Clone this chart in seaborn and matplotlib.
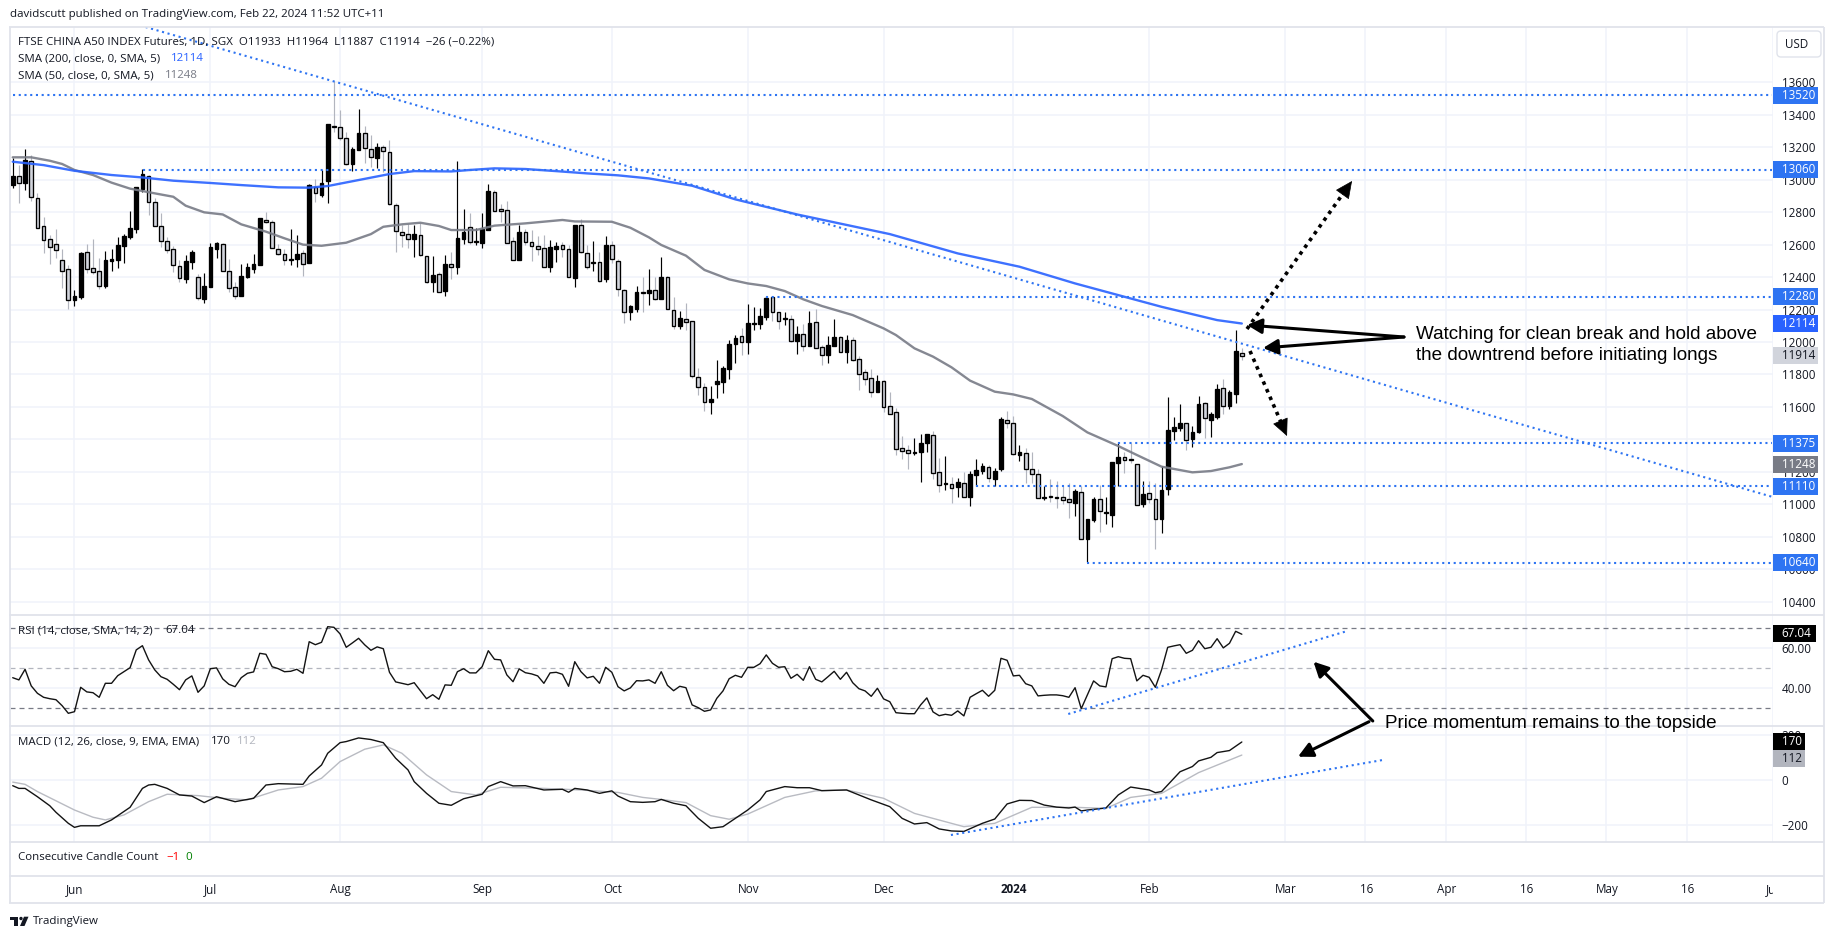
import matplotlib
matplotlib.use("Agg")
import matplotlib.pyplot as plt
from matplotlib.patches import Rectangle, Circle, Polygon, FancyBboxPatch
import seaborn as sns

# ---------- daily candles (price units) ----------
directions = ("BGBGGGGGGG" "BBGGGBBBBB" "BBGGGGGGBB" "GBBBGGGBBB" "BGGGGBBGBG"
              "BBGGGBBGGB" "GGGGGBGGBG" "BGBBGBBBGG" "GGBGGGGBBG" "GBGGBGBGGG"
              "BBGBGBGGBG" "GGGBBBBBGB" "BBBGGBGBGB" "GGBBGBGGGG" "BGGGGGBBBG"
              "GBGBGBBBGB" "BGGBGGGBGG" "GGBGBBGBBB" "GGGBGGBBBB" "GBBGBBGBBG")
highs = [13131,13090,13187,13152,12916,12772,12659,12694,12571,12474,
         12320,12552,12604,12634,12515,12561,12571,12645,12663,12807,
         12953,13066,13029,12885,12797,12649,12591,12505,12536,12567,
         12419,12423,12608,12618,12608,12509,12372,12480,12489,12542,
         12762,12801,12752,12602,12575,12694,12659,12567,12971,13002,
         13060,13343,13608,13429,13296,13203,13436,13331,13275,13228,
         13214,13244,12854,12721,12725,12721,12735,12532,12530,12433,
         12536,12556,13115,12819,12797,12700,12793,12973,12936,12848,
         12869,12645,12721,12694,12690,12653,12659,12628,12616,12616,
         12595,12721,12756,12598,12622,12552,12653,12624,12511,12326,
         12228,12345,12402,12450,12402,12522,12407,12277,12191,12238,
         12131,11838,11745,11729,11889,11852,12012,12041,12084,12234,
         12214,12207,12283,12279,12187,12185,12166,12098,12111,12193,
         12201,11981,12037,12140,12037,12041,12033,11914,11831,11834,
         11794,11766,11692,11591,11421,11365,11406,11433,11433,11452,
         11285,11297,11170,11160,11201,11207,11279,11256,11242,11222,
         11536,11575,11544,11365,11345,11324,11215,11113,11154,11143,
         11115,11129,11094,11115,10907,11043,11119,11047,11263,11386,
         11324,11376,11248,11146,11146,11129,11238,11659,11536,11616,
         11499,11482,11667,11630,11567,11741,11772,11704,12074,11964]
body_tops = [13023,13023,13121,13113,12885,12715,12632,12602,12503,12448,
             12283,12548,12552,12454,12435,12505,12511,12598,12651,12702,
             12953,13035,13021,12860,12713,12620,12571,12466,12497,12552,
             12398,12343,12583,12608,12602,12435,12337,12404,12460,12478,
             12762,12754,12737,12575,12540,12509,12540,12546,12965,12953,
             12977,13341,13329,13325,13255,13187,13286,13286,13191,13199,
             13199,13168,12842,12680,12663,12665,12657,12528,12413,12417,
             12480,12478,12639,12676,12706,12622,12696,12930,12922,12817,
             12811,12620,12676,12676,12614,12589,12577,12585,12589,12595,
             12571,12721,12719,12546,12493,12491,12595,12595,12497,12322,
             12220,12306,12306,12318,12318,12398,12402,12199,12146,12140,
             12127,11782,11725,11647,11758,11838,11986,12022,12035,12115,
             12117,12158,12269,12275,12183,12146,12144,12047,12047,12115,
             12121,11967,11979,12029,12029,12010,12010,11893,11813,11776,
             11760,11758,11604,11567,11345,11332,11322,11375,11431,11425,
             11197,11131,11123,11135,11129,11185,11211,11234,11232,11203,
             11523,11517,11499,11320,11318,11215,11185,11045,11049,11045,
             11043,11030,11080,11074,10907,11030,11030,10952,11258,11289,
             11289,11279,11246,11061,11067,11030,11086,11456,11474,11499,
             11499,11443,11616,11622,11554,11708,11714,11690,11942,11933]
body_bottoms = [12967,12982,12982,12891,12700,12626,12587,12569,12439,12261,
                12261,12279,12448,12433,12347,12347,12501,12507,12593,12649,
                12698,12945,12860,12717,12620,12565,12472,12392,12390,12495,
                12269,12267,12341,12575,12435,12330,12285,12285,12402,12452,
                12476,12737,12577,12540,12503,12505,12513,12478,12484,12916,
                12908,12994,13323,13255,13095,13097,13185,13193,13138,13136,
                13175,12848,12682,12657,12632,12636,12534,12367,12372,12310,
                12312,12464,12464,12637,12618,12618,12612,12692,12809,12809,
                12612,12503,12507,12614,12593,12575,12464,12464,12575,12571,
                12398,12396,12552,12460,12489,12374,12386,12509,12324,12183,
                12183,12205,12300,12304,12263,12267,12201,12096,12100,12121,
                11788,11721,11628,11632,11743,11756,11836,11990,11998,12002,
                12113,12113,12156,12183,12131,12142,12008,12008,11977,11977,
                11961,11922,11922,11977,11940,11940,11891,11801,11770,11690,
                11694,11597,11558,11339,11326,11318,11318,11320,11375,11191,
                11117,11127,11102,11109,11043,11047,11182,11207,11160,11158,
                11217,11499,11308,11306,11215,11185,11037,11041,11045,11041,
                11028,11012,11010,10788,10788,10905,10957,10948,10936,11256,
                11271,11275,10998,11004,11030,10907,10911,11096,11454,11472,
                11394,11404,11447,11530,11521,11540,11604,11604,11682,11914]
lows = [12947,12858,12936,12871,12700,12550,12480,12515,12330,12203,
        12222,12267,12423,12419,12326,12335,12437,12458,12489,12634,
        12674,12926,12782,12717,12587,12546,12433,12372,12365,12450,
        12259,12242,12341,12519,12435,12310,12267,12285,12396,12423,
        12476,12731,12577,12536,12474,12474,12464,12406,12484,12865,
        12895,12858,13296,13244,13090,13053,13183,13101,13080,13072,
        13049,12844,12556,12587,12577,12526,12530,12365,12310,12306,
        12285,12388,12419,12604,12604,12598,12581,12692,12807,12741,
        12612,12503,12507,12598,12501,12536,12460,12433,12495,12522,
        12398,12341,12550,12448,12439,12372,12372,12489,12285,12115,
        12135,12187,12187,12228,12261,12267,12201,12078,12080,12074,
        11776,11673,11577,11556,11655,11688,11772,11873,11920,11926,
        12074,12080,12135,12131,12080,12105,11998,11926,11944,11975,
        11961,11858,11873,11975,11940,11873,11885,11704,11735,11661,
        11694,11571,11556,11304,11277,11217,11304,11139,11324,11156,
        11078,11088,11006,11043,11043,10991,11113,11187,11139,11115,
        11205,11472,11304,11269,11133,11133,11037,11026,11012,10979,
        11002,10917,10930,10786,10646,10893,10831,10876,10862,11113,
        11195,11252,10996,10985,11006,10726,10821,11059,11396,11454,
        11337,11355,11441,11406,11417,11525,11556,11585,11622,11887]

# ---------- moving averages (bar number, value) ----------
sma200_bars = [0,5,10,16,21,26,32,37,43,48,51,56,61,65,71,74,78,83,88,93,98,103,110,117,127,142,153,163,172,179,186,195,199]
sma200_vals = [13111,13090,13055,13029,13014,12994,12980,12967,12953,12951,12961,12998,13035,13053,13051,13060,13070,13066,13053,13039,13027,13008,12963,12879,12786,12665,12546,12464,12361,12289,12217,12135,12114]
sma50_bars = [0,3,6,8,10,13,16,19,23,26,28,31,34,37,41,44,47,50,54,58,60,63,66,69,71,75,78,83,89,91,97,100,103,105,109,112,116,119,122,125,128,131,136,141,143,146,149,152,155,159,162,165,170,174,179,182,186,191,194,197,199]
sma50_vals = [13138,13138,13117,13097,13060,13029,12982,12945,12916,12895,12840,12799,12786,12725,12680,12639,12600,12593,12612,12665,12710,12725,12735,12715,12690,12690,12717,12731,12752,12743,12741,12704,12645,12598,12532,12444,12386,12361,12345,12314,12263,12222,12166,12084,12043,11961,11910,11844,11762,11694,11677,11649,11544,11443,11359,11304,11232,11197,11205,11228,11248]

# ---------- RSI, one value per bar ----------
rsi_vals = [45.3,44.2,49.5,41.2,37.5,35.5,34.8,34.3,31.3,27.5,28.3,40.5,38.2,37.8,35.5,42.5,42.5,46.3,48.3,50.3,
            59.2,61.3,54.2,49.2,45.8,44.5,42.0,39.3,44.2,46.2,38.0,41.2,49.8,50.2,44.7,42.0,40.8,45.3,47.5,48.2,
            57.5,57.0,50.8,49.8,48.3,48.5,49.5,47.5,63.3,61.8,63.0,70.8,70.5,67.2,60.5,62.7,65.0,61.7,59.0,60.7,
            59.8,48.0,43.2,42.5,41.8,42.8,38.8,34.8,36.8,34.5,41.7,41.5,48.3,49.8,47.7,47.7,50.8,58.8,54.5,54.2,
            46.7,43.3,49.7,47.8,47.2,46.2,42.5,47.7,48.0,47.0,41.0,53.3,48.3,45.2,46.0,42.5,50.5,48.0,40.8,38.7,
            40.2,43.8,43.7,44.2,42.5,48.3,41.5,38.8,41.0,40.3,31.7,30.3,28.5,29.2,35.0,38.7,44.8,46.5,45.5,50.5,
            50.5,52.3,56.7,52.5,50.5,50.8,45.0,47.0,44.0,50.8,44.5,43.2,45.8,48.5,44.5,48.0,42.8,39.8,38.7,36.0,
            40.0,34.7,33.3,27.8,27.5,27.3,27.3,31.7,35.2,28.2,26.3,27.0,26.5,28.7,26.2,35.5,37.3,39.0,36.0,39.0,
            55.0,54.0,46.2,46.5,42.3,41.2,36.2,36.5,36.7,36.7,36.3,35.5,40.3,29.8,36.7,43.7,41.2,40.7,54.8,55.8,
            55.0,54.8,43.7,46.5,45.5,40.5,49.2,60.5,61.2,61.8,57.5,59.0,63.8,59.8,60.5,64.8,60.2,62.5,68.5,67.04]

# ---------- MACD and signal (bar number, value) ----------
macd_bars = [0,1,2,4,6,7,9,10,11,14,16,19,21,22,23,25,27,29,31,33,36,39,41,43,47,48,50,51,53,54,56,58,60,62,64,65,67,69,71,73,76,77,79,81,83,86,89,90,91,93,95,97,98,100,102,104,105,107,109,111,113,115,117,119,121,122,125,127,129,131,135,139,142,144,146,148,150,152,154,157,159,161,163,165,167,169,171,172,173,174,177,179,181,184,185,186,189,191,192,194,195,197,199]
macd_vals = [-24,-36,-36,-73,-113,-142,-191,-209,-202,-202,-176,-120,-36,-21,-18,-36,-65,-70,-99,-73,-95,-80,-21,-15,-18,19,68,120,167,172,188,181,167,98,46,-6,-58,-102,-111,-82,-62,-28,-6,-25,-24,-43,-40,-53,-36,-43,-58,-47,-70,-95,-98,-95,-85,-102,-113,-169,-213,-206,-169,-132,-87,-50,-28,-33,-33,-46,-43,-87,-117,-169,-194,-188,-216,-225,-227,-191,-172,-105,-89,-90,-110,-119,-123,-119,-136,-132,-123,-65,-30,-43,-55,-50,38,61,86,102,123,132,170]
signal_bars = [0,2,4,10,13,15,18,22,25,30,34,38,43,47,50,53,57,60,63,67,71,75,79,86,92,98,102,105,109,113,116,119,125,130,135,141,146,154,159,165,172,177,181,186,192,199]
signal_vals = [-8,-18,-50,-132,-164,-176,-154,-95,-62,-68,-80,-87,-43,-28,9,83,138,157,120,24,-50,-65,-31,-36,-43,-54,-76,-85,-99,-157,-173,-150,-76,-47,-43,-80,-147,-206,-191,-120,-120,-125,-76,-58,34,112]

# ---------- levels, trend lines ----------
level_prices = [13520, 13060, 12280, 11375, 11110, 10640]
level_starts = [0, 21.1, 121.9, 179, 156, 174]
trend_bars = [21.5, 284.8]
trend_prices = [13941, 11047]
rsi_trend_bars = [170.9, 215.7]
rsi_trend_vals = [27.15, 68.3]
macd_trend_bars = [151.9, 221.8]
macd_trend_vals = [-243, 90]

price_ticks = [13600,13400,13200,13000,12800,12600,12400,12200,12000,11800,11600,11400,11200,11000,10800,10600,10400]
rsi_ticks = [60, 40]
rsi_bands = [70, 50, 30]
macd_ticks = [200, 0, -200]
time_labels = ["Jun","Jul","Aug","Sep","Oct","Nov","Dec","2024","Feb","Mar","16","Apr","16","May","16","Jun"]
time_bars = [10,32,53,76,97,119,141,162,184,206,219,232,245,258,271,285]

W, H = 1835, 939
sns.set_theme(style="white")
plt.rcParams['font.family'] = ['Open Sans', 'DejaVu Sans']
fig = plt.figure(figsize=(W/100, H/100), dpi=100, facecolor="white")

INK = "#131722"; GRID = "#F0F3FA"; FRAME = "#E0E3EB"
BLUE = "#2E74F2"; SMA_BLUE = "#2962FF"; SMA_GREY = "#787B86"
UP = "#000000"; WICK_DN = "#B2B5BE"; BODY_DN = "#D1D4DC"
LABEL_PT = 8.4

def pane(left, top, right, bottom):
    ax = fig.add_axes([left/W, 1-bottom/H, (right-left)/W, (bottom-top)/H])
    ax.set_facecolor("white")
    for s in ax.spines.values():
        s.set_visible(False)
    return ax

XL = (-0.44, 284.8)
ax_p = pane(10, 27, 1773, 615);  ax_p.set_ylim(10318, 13941)
ax_r = pane(10, 615, 1773, 726); ax_r.set_ylim(21.15, 76.65)
ax_m = pane(10, 726, 1773, 842); ax_m.set_ylim(-274, 241)
ax_c = pane(10, 842, 1773, 876); ax_c.set_yticks([])
ax_t = pane(10, 876, 1773, 903); ax_t.set_yticks([])

for ax in (ax_p, ax_r, ax_m, ax_c, ax_t):
    ax.set_xlim(*XL)
    ax.set_xticks([])

for ax, ticks in ((ax_p, price_ticks), (ax_r, rsi_ticks), (ax_m, macd_ticks)):
    ax.set_axisbelow(True)
    ax.set_xticks(time_bars)
    ax.set_xticklabels([])
    ax.yaxis.tick_right()
    ax.set_yticks(ticks)
    ax.tick_params(axis="x", length=0)
    ax.tick_params(axis="y", length=0, pad=6.3, labelsize=LABEL_PT, labelcolor=INK)
    ax.grid(True, color=GRID, lw=1.1)
    ax.set_xlabel(""); ax.set_ylabel("")
ax_r.set_yticklabels([f"{v:.2f}" for v in rsi_ticks])
ax_m.set_yticklabels([str(v).replace("-", "\u2212") for v in macd_ticks])

# candles
for i, d in enumerate(directions):
    up = d == "B"
    ax_p.vlines(i, lows[i], highs[i], color=UP if up else WICK_DN, lw=0.85, zorder=3)
    ax_p.bar(i, body_tops[i]-body_bottoms[i], bottom=body_bottoms[i], width=0.6,
             facecolor=UP if up else BODY_DN, edgecolor="#000000", linewidth=0.95, zorder=4)

# moving averages
sns.lineplot(x=sma50_bars, y=sma50_vals, ax=ax_p, color=SMA_GREY, lw=1.7, alpha=0.9, zorder=5, estimator=None, sort=False)
sns.lineplot(x=sma200_bars, y=sma200_vals, ax=ax_p, color=SMA_BLUE, lw=1.7, alpha=0.9, zorder=5, estimator=None, sort=False)

DOT_LW = 1.5
DOTS = (0, (1, 1.75))
for price, start in zip(level_prices, level_starts):
    ax_p.plot([start, XL[1]], [price, price], color=BLUE, lw=DOT_LW, ls=DOTS, zorder=6)
ax_p.plot(trend_bars, trend_prices, color=BLUE, lw=DOT_LW, ls=DOTS, zorder=6)

# RSI
for v, c in zip(rsi_bands, ["#787B86", "#B2B5BE", "#787B86"]):
    ax_r.axhline(v, color=c, lw=0.9, ls=(0, (4, 3.2)), zorder=2)
sns.lineplot(x=list(range(len(rsi_vals))), y=rsi_vals, ax=ax_r, color="#131313", lw=1.0, zorder=4, estimator=None, sort=False)
ax_r.plot(rsi_trend_bars, rsi_trend_vals, color=BLUE, lw=DOT_LW, ls=DOTS, zorder=5)

# MACD
sns.lineplot(x=signal_bars, y=signal_vals, ax=ax_m, color="#B9BBC2", lw=1.0, zorder=3, estimator=None, sort=False)
sns.lineplot(x=macd_bars, y=macd_vals, ax=ax_m, color="#131313", lw=1.0, zorder=4, estimator=None, sort=False)
ax_m.plot(macd_trend_bars, macd_trend_vals, color=BLUE, lw=DOT_LW, ls=DOTS, zorder=5)

# time axis
for b, s in zip(time_bars, time_labels):
    ax_t.text(b, 0.49, s, ha="center", va="center", fontsize=LABEL_PT, color=INK, clip_on=True,
              transform=ax_t.get_xaxis_transform(), fontweight="bold" if s == "2024" else "normal")

# overlay in pixel space
ov = fig.add_axes([0, 0, 1, 1], zorder=20)
ov.set_xlim(0, W); ov.set_ylim(H, 0); ov.axis("off"); ov.patch.set_alpha(0)

for x0, x1, y in [(9, 1824, 27), (9, 1824, 615), (9, 1824, 726), (9, 1824, 842), (9, 1824, 876), (9, 1824, 903)]:
    ov.plot([x0, x1], [y, y], color=FRAME, lw=1.3, solid_capstyle="butt")
for x in (9.5, 1824):
    ov.plot([x, x], [27, 903], color=FRAME, lw=1.3, solid_capstyle="butt")

def y_of(ax, v):
    return H - ax.transData.transform((0, v))[1]

def tag(ax, v, s, fc, tc, width=45, dy=0, bold=False):
    yc = y_of(ax, v) + dy
    ov.add_patch(Rectangle((1773, yc-8.5), width, 17, facecolor=fc, edgecolor="none", zorder=8))
    ov.text(1781.7, yc, s, color=tc, fontsize=LABEL_PT, va="center", ha="left", zorder=9,
            fontweight="bold" if bold else "normal")

for v in level_prices:
    tag(ax_p, v, str(v), BLUE, "white")
tag(ax_p, 12114, "12114", SMA_BLUE, "white")
tag(ax_p, 11914, "11914", BODY_DN, INK)
tag(ax_p, 11248, "11248", SMA_GREY, "white")
tag(ax_r, 67.04, "67.04", "#000000", "white", width=43, dy=-1)
tag(ax_m, 170, "170", "#000000", "white", width=32, dy=0)
tag(ax_m, 112, "112", "#B2B5BE", INK, width=32, dy=3.3)

ov.add_patch(FancyBboxPatch((1779, 33), 40, 22, boxstyle="round,pad=2,rounding_size=4",
                            facecolor="white", edgecolor=FRAME, lw=1.0))
ov.text(1796.5, 44.5, "USD", ha="center", va="center", fontsize=LABEL_PT, color=INK)

HEAD = 8.25
ov.text(10, 15, "davidscutt published on TradingView.com, Feb 22, 2024 11:52 UTC+11",
        fontsize=HEAD, color=INK, va="center")
ov.text(18, 41.5, "FTSE CHINA A50 INDEX Futures, 1D, SGX  O11933  H11964  L11887  C11914  \u221226 (\u22120.22%)",
        fontsize=HEAD, color=INK, va="center")
ov.text(18, 58.7, "SMA (200, close, 0, SMA, 5)", fontsize=HEAD, color=INK, va="center")
ov.text(171, 58.7, "12114", fontsize=HEAD, color=SMA_BLUE, va="center")
ov.text(18, 76, "SMA (50, close, 0, SMA, 5)", fontsize=HEAD, color=INK, va="center")
ov.text(165, 76, "11248", fontsize=HEAD, color=SMA_GREY, va="center")
ov.text(18, 630.7, "RSI (14, close, SMA, 14, 2)", fontsize=HEAD, color=INK, va="center")
ov.text(165, 630.7, "67.04", fontsize=HEAD, color=INK, va="center")
ov.text(18, 742, "MACD (12, 26, close, 9, EMA, EMA)", fontsize=HEAD, color=INK, va="center")
ov.text(211, 742, "170", fontsize=HEAD, color=INK, va="center")
ov.text(237, 742, "112", fontsize=HEAD, color="#B2B5BE", va="center")
ov.text(18, 857.7, "Consecutive Candle Count", fontsize=HEAD, color=INK, va="center")
ov.text(166, 857.7, "\u22121", fontsize=HEAD, color="#FF0000", va="center")
ov.text(185, 857.7, "0", fontsize=HEAD, color="#008000", va="center")

# TradingView mark
ov.add_patch(Rectangle((10, 916.7), 8, 3.3, fc=INK, ec="none"))
ov.add_patch(Rectangle((14, 916.7), 4, 9.3, fc=INK, ec="none"))
ov.add_patch(Circle((21, 918.5), 1.7, fc=INK, ec="none"))
ov.add_patch(Polygon([(24, 916.7), (28.5, 916.7), (24.5, 926), (20, 926)], fc=INK, ec="none"))
ov.text(33, 921.5, "TradingView", fontsize=HEAD, color=INK, va="center")

# analyst annotations
NOTE = dict(family=["Liberation Sans"], fontsize=13.55, color="#000000", va="center")
ov.text(1416, 334.5, "Watching for clean break and hold above", **NOTE)
ov.text(1416, 356, "the downtrend before initiating longs", **NOTE)
ov.text(1385, 723, "Price momentum remains to the topside", **NOTE)

def solid(tail, tip):
    ov.annotate("", xy=tip, xytext=tail, zorder=12,
                arrowprops=dict(arrowstyle="-|>,head_length=0.55,head_width=0.28", color="#000000",
                                lw=2.2, shrinkA=0, shrinkB=0, mutation_scale=16))

solid((1404, 337), (1247, 325))
solid((1404, 337), (1263, 348))
solid((1372.8, 721), (1313.5, 661.7))
solid((1369, 721.7), (1298, 756.7))

def dotted(tail, tip):
    dx, dy = tip[0]-tail[0], tip[1]-tail[1]
    neck = (tip[0]-0.09*dx, tip[1]-0.09*dy)
    ov.plot([tail[0], neck[0]], [tail[1], neck[1]], color="#000000", lw=2.6, ls=(0, (1, 1.3)), zorder=12)
    ov.annotate("", xy=tip, xytext=neck, zorder=12,
                arrowprops=dict(arrowstyle="-|>,head_length=0.7,head_width=0.33", color="#000000",
                                lw=0.5, shrinkA=0, shrinkB=0, mutation_scale=16))

dotted((1247, 329), (1352, 181))
dotted((1250, 351), (1287, 436))

fig.savefig("out.png", dpi=100)
